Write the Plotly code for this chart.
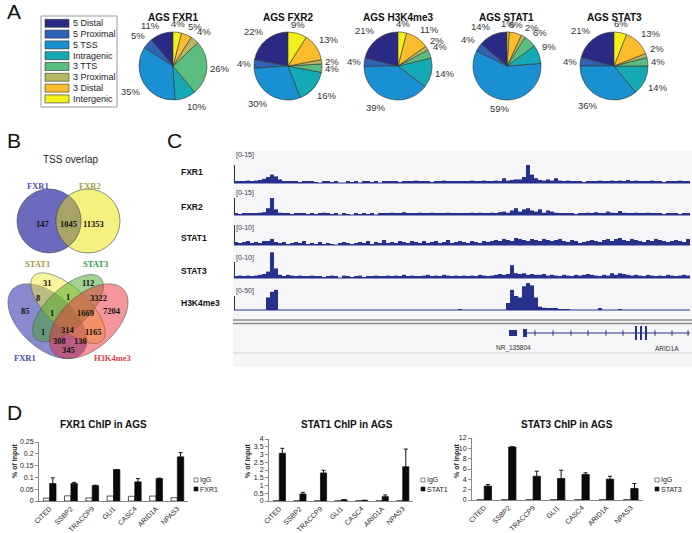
import numpy as np
import plotly.graph_objects as go

W, H = 692, 533
def fx(p): return p / W
def fy(p): return 1 - p / H

# ---------------- Panel A data ----------------
regions = ["5 Distal", "5 Proximal", "5 TSS", "Intragenic", "3 TTS", "3 Proximal", "3 Distal", "Intergenic"]
region_colors = ["#2a2a85", "#2f63b5", "#1a8fd2", "#14a9b4", "#5cbd80", "#b5b861", "#fbbd2c", "#f3ef1c"]
pie_titles = ["AGS FXR1", "AGS FXR2", "AGS H3K4me3", "AGS STAT1", "AGS STAT3"]
pie_fxr1 = [11, 5, 35, 10, 26, 4, 5, 4]
pie_fxr2 = [22, 4, 30, 16, 4, 2, 13, 9]
pie_h3k4me3 = [21, 4, 39, 14, 4, 2, 11, 4]
pie_stat1 = [14, 4, 59, 9, 6, 2, 6, 1]
pie_stat3 = [21, 4, 36, 14, 4, 2, 13, 6]

# ---------------- Panel B data ----------------
venn2_sets = ["FXR1", "FXR2"]
venn2_counts = [147, 1045, 11353]
venn4_sets = ["FXR1", "STAT1", "STAT3", "H3K4me3"]
venn4_counts = [31, 112, 8, 1, 3322, 85, 1, 1669, 7204, 1, 314, 1165, 308, 130, 345]

# ---------------- Panel C data (signal per 4-unit bin) ----------------
track_names = ["FXR1", "FXR2", "STAT1", "STAT3", "H3K4me3"]
track_ranges = [15, 15, 10, 10, 50]
sig_fxr1 = [1,1.5,1,2,1.5,2,2.5,3.5,5,7,5.5,3,1.5,1,1.5,1,0.5,1,1.5,
            1,0.5,0,1,1.5,0.5,1,0,0,1,0.5,1,0,1,1.5,0.5,1,0,1,
            1,1.5,1,0.5,1.5,1,1,2,1,1.5,1,0.5,1,1.5,2,1,1,1.5,1,
            1.5,1,2,1.5,1,2,1.5,1,2,1.5,4,2,2.5,3,3,5,15,7,4,
            2.5,2,3,2,4,2,1.5,2,1,1.5,1,0.5,1,1.5,1,2,1,1.5,2,
            1.5,2,1,2.5,1.5,2,1,1.5,1,2,1.5,1,0.5,1,1.5,1,2,1.5,1]
sig_fxr2 = [1,0.5,1.5,1,1,1.5,2,2.5,6,15,5,2,1,1.5,0.5,1,1.5,1,0.5,
            1,0.5,1,2,1,0.5,1.5,0,1,0.5,0,1,0.5,1,0.5,1,0,1,1.5,
            1,2,1.5,1,2.5,1,1.5,1,2,1,1.5,2,1,1.5,1,2,1,1.5,1,
            1.5,1,2,1.5,2,1,1.5,2,1,2.5,3,2,4,6,3,5,6,4,3,
            5,2,4,3,2,1.5,1,1.5,1,0.5,1,1.5,2,1,2.5,1,1.5,3,2,
            1.5,3.5,2,1.5,1,2,1.5,1,2,1,1.5,1,0.5,1,1.5,1,0.5,1,1.5]
sig_stat1 = [1.5,1,1.5,2,1,1.5,1,2,2,3,1.5,1,1.5,0.5,1,1.5,1,2,0.5,
             1,0.5,1.5,0.5,1,0.5,0,1,1.5,1,0.5,1,1.5,1,2,0.5,1.5,1,2.5,
             1,1.5,1,2,1.5,1,2,1.5,1,2,1,1.5,2,1,1.5,2.5,1,1.5,2,
             1.5,1,2,1.5,1,2,1.5,2,2.5,2,3,2.5,2,3.5,3,2.5,2,3,2.5,
             2,3,2.5,2,2.5,3,2,1.5,2.5,2,1,1.5,2,2.5,2,1.5,2.5,3,2,
             3,3.5,2.5,2,3,2.5,2,1.5,2.5,2,3,2.5,2,1.5,2,2.5,2,1.5,3]
sig_stat3 = [1,1.5,1,1.5,1,1.5,2,2.5,4,16,6,2,1,2,1.5,1,1.5,1,1,
             1.5,1,1,0.5,1,1.5,1,0,1.5,1,0.5,1,1.5,0.5,1,1,1.5,1,1,
             1.5,1,1.5,1,2,1,1.5,1,1,1.5,2,1,1.5,1,2,1.5,1,1.5,1,
             1.5,1,1.5,1,2,1.5,1,1.5,2,2.5,2,2.5,8,3,2.5,3,2,2.5,2,
             2,2.5,1.5,2,1.5,1,2,1.5,1,2,1.5,2,2.5,2,1.5,1,2,1.5,3,
             2,3,2.5,2,1.5,2,1.5,1,2,1.5,1,1.5,1,2,1.5,1,1.5,2,1.5]
sig_h3k4me3 = [0,0,0,0,0,0,0,0,45,65,72,0,0,0,0,0,0,0,0,
               0,0,0,0,0,0,0,0,0,0,0,0,0,0,0,0,0,0,0,
               0,0,0,0,0,0,0,0,0,0,0,0,0,0,0,0,0,0,3,
               0,0,0,0,0,0,0,0,0,0,0,25,72,50,45,85,96,88,45,
               12,8,7,5,4,3,3,1,0,0,0,0,0,0,0,4,0,0,0,
               0,3,0,0,0,0,0,0,0,0,0,0,0,0,0,0,0,0,0]
signals = [sig_fxr1, sig_fxr2, sig_stat1, sig_stat3, sig_h3k4me3]
for s in signals:
    assert len(s) == 114, len(s)
bin_pos = [2 + 4 * i for i in range(114)]
gene_labels = ["NR_135804", "ARID1A"]
nr_block = [275, 283]
arid_utr = [289, 293]
arid_line = [293, 456]
arid_arrows = [301, 319, 337, 354, 372, 389, 421, 438, 454]
arid_exons = [402, 407, 412]

# ---------------- Panel D data ----------------
genes = ["CITED", "SSBP2", "TRACCP9", "GLI1", "CASC4", "ARID1A", "NPAS3"]
fxr1_igg = [0.012, 0.022, 0.013, 0.021, 0.02, 0.021, 0.014]
fxr1_chip = [0.074, 0.074, 0.065, 0.133, 0.081, 0.095, 0.187]
fxr1_err = [0.024, 0.005, 0.002, 0.0, 0.014, 0.002, 0.018]
stat1_igg = [0.01, 0.01, 0.01, 0.01, 0.01, 0.01, 0.01]
stat1_chip = [3.08, 0.45, 1.81, 0.07, 0.04, 0.28, 2.21]
stat1_err = [0.32, 0.11, 0.17, 0.0, 0.0, 0.11, 1.14]
stat3_igg = [0.05, 0.05, 0.05, 0.05, 0.05, 0.05, 0.05]
stat3_chip = [2.69, 10.26, 4.6, 4.17, 4.94, 4.04, 2.24]
stat3_err = [0.3, 0.0, 0.98, 1.6, 0.32, 0.56, 0.96]

fig = go.Figure()
shapes = []
ann = []
ARIAL = "Arial"
SERIF = "Liberation Serif"

def text(x, y, s, size=9, color="#222", bold=False, xanchor="center", yanchor="middle", family=ARIAL, angle=0):
    if bold:
        s = "<b>" + s + "</b>"
    ann.append(dict(x=fx(x), y=fy(y), xref="paper", yref="paper", text=s, showarrow=False,
                    xanchor=xanchor, yanchor=yanchor, textangle=angle, borderpad=0,
                    font=dict(size=size, color=color, family=family)))

def rect(x0, y0, x1, y1, fill=None, line="#888", lw=1, layer="above"):
    shapes.append(dict(type="rect", xref="paper", yref="paper", x0=fx(x0), x1=fx(x1), y0=fy(y1), y1=fy(y0),
                       fillcolor=fill if fill else "rgba(0,0,0,0)", line=dict(color=line, width=lw), layer=layer))

def hline(x0, x1, y, color, lw=1):
    shapes.append(dict(type="line", xref="paper", yref="paper", x0=fx(x0), x1=fx(x1), y0=fy(y), y1=fy(y),
                       line=dict(color=color, width=lw)))

def vline(x, y0, y1, color, lw=1):
    shapes.append(dict(type="line", xref="paper", yref="paper", x0=fx(x), x1=fx(x), y0=fy(y0), y1=fy(y1),
                       line=dict(color=color, width=lw)))

# panel letters
for L, (x, y) in zip("ABCD", [(14, 12), (14, 140), (174, 140), (14, 412)]):
    text(x, y, L, size=21, color="#111")

# ---------------- Panel A ----------------
pie_sets = [pie_fxr1, pie_fxr2, pie_h3k4me3, pie_stat1, pie_stat3]
pie_cx = [173, 288, 398, 507, 614]
pie_cy = 66
pie_r = 34
for title, vals, cx in zip(pie_titles, pie_sets, pie_cx):
    tot = float(sum(vals))
    fig.add_trace(go.Pie(values=vals, labels=regions, sort=False, direction="counterclockwise",
                         rotation=-360.0 * vals[0] / tot,
                         domain=dict(x=[fx(cx - pie_r), fx(cx + pie_r)], y=[fy(pie_cy + pie_r), fy(pie_cy - pie_r)]),
                         marker=dict(colors=region_colors, line=dict(color="#333", width=0.6)),
                         textinfo="none", showlegend=False, hoverinfo="label+value"))
    text(cx, 18, title, size=10, color="#111", bold=True)
    cum = 0.0
    for v in vals:
        th = 2 * np.pi * (cum + v / 2.0) / tot
        cum += v
        dx, dy = -np.sin(th), -np.cos(th)
        xa = "left" if dx > 0.3 else ("right" if dx < -0.3 else "center")
        ya = "bottom" if dy < -0.3 else ("top" if dy > 0.3 else "middle")
        text(cx + pie_r * 1.07 * dx, pie_cy + pie_r * 1.07 * dy, f"{v}%", size=9.5, color="#333",
             xanchor=xa, yanchor=ya)

rect(41, 16, 117, 107, line="#999", lw=1)
for i, (name, col) in enumerate(zip(regions, region_colors)):
    yc = 23.3 + 10.8 * i
    rect(45, yc - 4, 69, yc + 4, fill=col, line="#333", lw=0.6)
    text(72, yc, name, size=9, color="#222", xanchor="left")

# ---------------- Panel B ----------------
text(70, 159, "TSS overlap", size=10, color="#222")
c1, c2, cy2, rr = 49, 88, 221, 32
shapes.append(dict(type="circle", xref="paper", yref="paper", x0=fx(c1 - rr), x1=fx(c1 + rr),
                   y0=fy(cy2 + rr), y1=fy(cy2 - rr), fillcolor="#6a6abf", line=dict(color="#444", width=0.6)))
shapes.append(dict(type="circle", xref="paper", yref="paper", x0=fx(c2 - rr), x1=fx(c2 + rr),
                   y0=fy(cy2 + rr), y1=fy(cy2 - rr), fillcolor="#f4f17e", line=dict(color="#444", width=0.6)))
al = np.arccos((c2 - c1) / 2 / rr)
t1 = np.linspace(-al, al, 40)
t2 = np.linspace(np.pi - al, np.pi + al, 40)
px_ = np.concatenate([c1 + rr * np.cos(t1), c2 + rr * np.cos(t2)])
py_ = np.concatenate([cy2 + rr * np.sin(t1), cy2 + rr * np.sin(t2)])
path = "M " + " L ".join(f"{fx(a):.5f},{fy(b):.5f}" for a, b in zip(px_, py_)) + " Z"
shapes.append(dict(type="path", xref="paper", yref="paper", path=path, fillcolor="#a8a468",
                   line=dict(color="#444", width=0.6)))
text(38, 186, venn2_sets[0], size=8.5, color="#4b4bb0", bold=True, family=SERIF)
text(90, 186, venn2_sets[1], size=8.5, color="#a39c45", bold=True, family=SERIF)
for val, x in zip(venn2_counts, [43, 68, 94]):
    text(x, 224, str(val), size=8.5, color="#111", bold=True, family=SERIF)

# four-set ellipses (unit geometry -> px)
ell = [(0.35, 0.47, 0.35, 0.20, 135, "rgba(20,20,160,0.5)"),
       (0.50, 0.57, 0.35, 0.15, 135, "rgba(240,235,60,0.5)"),
       (0.50, 0.57, 0.33, 0.15, 45, "rgba(70,165,40,0.5)"),
       (0.65, 0.47, 0.35, 0.20, 45, "rgba(235,45,55,0.5)")]
tt = np.linspace(0, 2 * np.pi, 120)
for (ex, ey, a, b, rot, col) in ell:
    th = np.deg2rad(rot)
    X = ex + a * np.cos(tt) * np.cos(th) - b * np.sin(tt) * np.sin(th)
    Y = ey + a * np.cos(tt) * np.sin(th) + b * np.sin(tt) * np.cos(th)
    PX = 68 + (X - 0.5) * 138
    PY = 316 - (Y - 0.51) * 131
    path = "M " + " L ".join(f"{fx(p):.5f},{fy(q):.5f}" for p, q in zip(PX, PY)) + " Z"
    shapes.append(dict(type="path", xref="paper", yref="paper", path=path, fillcolor=col,
                       line=dict(color="#555", width=0.6)))
v4_pos = [(48, 283), (88, 283), (38, 298), (68, 297), (98, 298), (25, 311), (52, 313), (85, 313),
          (112, 311), (43, 332), (68, 330), (93, 332), (59, 341), (80, 341), (68, 350)]
for val, (x, y) in zip(venn4_counts, v4_pos):
    text(x, y, str(val), size=8.5, color="#111", bold=True, family=SERIF)
for name, (x, y), col in zip(venn4_sets, [(25, 358), (37, 264), (95, 264), (112, 358)],
                             ["#4b4bb0", "#a39c45", "#3b9a4a", "#e0404a"]):
    text(x, y, name, size=8.5, color=col, bold=True, family=SERIF)

# ---------------- Panel C ----------------
rect(233, 151, 692, 367, fill="#f6f6f8", line="rgba(0,0,0,0)", lw=0, layer="below")
baselines = [183, 215, 245, 278, 310]
tick_px = [18, 17, 20, 16, 14]
name_y = [172, 207, 238, 271, 303]
range_y = [155, 193, 228, 258, 291]
HEAD = 28
NAVY = "#26318c"
layout_axes = {}
layout_axes["xaxis"] = dict(domain=[fx(234), fx(690)], range=[0, 456], visible=False, anchor="y",
                            automargin=False)
for k, (nm, rmax, sig, bl, tp, ny, ry) in enumerate(zip(track_names, track_ranges, signals, baselines,
                                                         tick_px, name_y, range_y)):
    yname = "y" if k == 0 else f"y{k + 1}"
    axkey = "yaxis" if k == 0 else f"yaxis{k + 1}"
    layout_axes[axkey] = dict(domain=[fy(bl), fy(bl - HEAD)], range=[0, rmax * HEAD / tp], visible=False,
                              anchor="x", automargin=False)
    fig.add_trace(go.Bar(x=bin_pos, y=sig, width=4, offset=-2, marker=dict(color=NAVY, line=dict(width=0)),
                         xaxis="x", yaxis=yname, showlegend=False, hoverinfo="y"))
    hline(234, 690, bl, NAVY, 1)
    vline(234.5, bl, bl - tp, "#333", 1)
    text(180, ny, nm, size=8.5, color="#111", bold=True, xanchor="left")
    text(235, ry, f"[0-{rmax}]", size=7, color="#444", xanchor="left")

# gene model track (y6)
layout_axes["yaxis6"] = dict(domain=[fy(340), fy(326)], range=[-1, 1], visible=False, anchor="x",
                             automargin=False)
hline(233, 692, 320, "#8a8a8a", 1.4)
hline(233, 692, 323.5, "#8a8a8a", 1.4)
hline(233, 692, 353, "#d0d0d4", 1)
fig.add_trace(go.Scatter(x=nr_block, y=[0, 0], mode="lines", line=dict(color=NAVY, width=6),
                         xaxis="x", yaxis="y6", showlegend=False, hoverinfo="skip"))
fig.add_trace(go.Scatter(x=arid_line, y=[0, 0], mode="lines", line=dict(color=NAVY, width=1),
                         xaxis="x", yaxis="y6", showlegend=False, hoverinfo="skip"))
fig.add_trace(go.Scatter(x=arid_utr, y=[0, 0], mode="lines", line=dict(color=NAVY, width=8),
                         xaxis="x", yaxis="y6", showlegend=False, hoverinfo="skip"))
fig.add_trace(go.Scatter(x=arid_arrows, y=[0] * len(arid_arrows), mode="markers",
                         marker=dict(symbol="line-ns", size=4, line=dict(color=NAVY, width=1)),
                         xaxis="x", yaxis="y6", showlegend=False, hoverinfo="skip"))
fig.add_trace(go.Scatter(x=arid_exons, y=[0] * len(arid_exons), mode="markers",
                         marker=dict(symbol="line-ns", size=11, line=dict(color=NAVY, width=2)),
                         xaxis="x", yaxis="y6", showlegend=False, hoverinfo="skip"))
text(513, 348, gene_labels[0], size=6.5, color="#333")
text(667, 348, gene_labels[1], size=6.5, color="#333")

# ---------------- Panel D ----------------
charts = [
    ("FXR1 ChIP in AGS", "FXR1", fxr1_igg, fxr1_chip, fxr1_err, (39, 188), (501, 442), [0, 0.25], 0.05, 103, 15, 194),
    ("STAT1 ChIP in AGS", "STAT1", stat1_igg, stat1_chip, stat1_err, (269, 413), (501, 439), [0, 4], 0.5, 347, 248, 421),
    ("STAT3 ChIP in AGS", "STAT3", stat3_igg, stat3_chip, stat3_err, (472, 643), (500, 438), [0, 12], 2, 567, 457, 655),
]
for j, (title, lab, igg, chip, err, (xa, xb), (ya, yb), yr, dt, tx, ylx, lgx) in enumerate(charts):
    xn = f"x{j + 2}"
    yn = f"y{j + 7}"
    layout_axes[f"xaxis{j + 2}"] = dict(domain=[fx(xa), fx(xb)], anchor=yn, type="category",
                                        showline=True, linecolor="#888", linewidth=1, ticks="",
                                        tickangle=-45, tickfont=dict(size=7, color="#222", family=ARIAL),
                                        showgrid=False, zeroline=False, automargin=False)
    layout_axes[f"yaxis{j + 7}"] = dict(domain=[fy(ya), fy(yb)], anchor=xn, range=yr, dtick=dt,
                                        showline=True, linecolor="#888", linewidth=1, ticks="outside",
                                        ticklen=3, tickcolor="#888", tickfont=dict(size=7, color="#222", family=ARIAL),
                                        showgrid=False, zeroline=False, automargin=False)
    fig.add_trace(go.Bar(x=genes, y=igg, xaxis=xn, yaxis=yn, name="IgG",
                         marker=dict(color="white", line=dict(color="#111", width=0.7)), showlegend=False))
    fig.add_trace(go.Bar(x=genes, y=chip, xaxis=xn, yaxis=yn, name=lab,
                         marker=dict(color="#0a0a0a", line=dict(color="#0a0a0a", width=0.7)),
                         error_y=dict(type="data", array=err, color="#111", thickness=1, width=2),
                         showlegend=False))
    text(tx, 424, title, size=10, color="#111", bold=True)
    text(ylx, 461, "% of Input", size=7, color="#222", bold=True, angle=-90)
    rect(lgx, 478, lgx + 4, 482, fill="white", line="#333", lw=0.6)
    rect(lgx, 487, lgx + 4, 491, fill="#111", line="#111", lw=0.6)
    text(lgx + 5, 480, "IgG", size=7, color="#222", xanchor="left")
    text(lgx + 5, 489, lab, size=7, color="#222", xanchor="left")

fig.update_layout(width=W, height=H, margin=dict(l=0, r=0, t=0, b=0, pad=0, autoexpand=False),
                  paper_bgcolor="white", plot_bgcolor="rgba(0,0,0,0)", barmode="group", bargap=0.4,
                  bargroupgap=0, showlegend=False, shapes=shapes, annotations=ann,
                  font=dict(family=ARIAL), **layout_axes)
fig.write_html("out.html", config={"displayModeBar": False})

# remove the default page margin so the figure sits at the window origin
with open("out.html", "r", encoding="utf-8") as f:
    page = f.read()
page = page.replace("<head>", "<head><style>html,body{margin:0;padding:0;overflow:hidden;}</style>", 1)
with open("out.html", "w", encoding="utf-8") as f:
    f.write(page)
